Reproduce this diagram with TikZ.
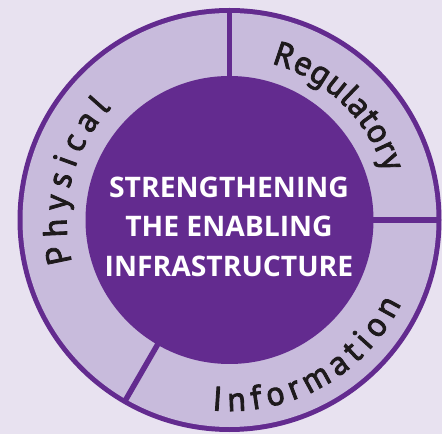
\documentclass[tikz,border=0pt]{standalone}
\usepackage{fontspec}
\setmainfont{Open Sans}
\newfontfamily\ringfont{PT Sans}[FakeBold=2.5]
\newfontfamily\centerfont{Open Sans}
\usetikzlibrary{decorations.text}
\definecolor{bgcol}{HTML}{E8E2F0}
\definecolor{ringcol}{HTML}{C8BBDC}
\definecolor{purp}{HTML}{632B8F}
\definecolor{inkcol}{HTML}{1E1A1C}
\begin{document}
\begin{tikzpicture}[x=1pt,y=1pt,
  divider/.style={purp, line width=5.5pt},
  ringtext/.style={decorate, decoration={text along path, text align=fit to path, text color=inkcol, text={|\ringfont\fontsize{34}{34}\selectfont|#1}}}]
\useasboundingbox (0,0) rectangle (442,434);
\fill[bgcol] (0,0) rectangle (442,434);
\coordinate (C) at (229.5,214);
\fill[purp] (C) circle (212);
\fill[ringcol] (C) circle (207);
\begin{scope}[shift={(C)}]
\draw[divider] (90:140) -- (90:209);
\draw[divider] (0:140) -- (0:209);
\draw[divider] (240:140) -- (240:209);
\end{scope}
\fill[purp] (C) circle (144);
\node[name=title, text=white, font=\centerfont\bfseries\fontsize{28.3}{39.5}\selectfont, align=center, inner sep=0pt] at (229,207.5) {STRENGTHENING\\THE ENABLING\\INFRASTRUCTURE};
\begin{scope}[shift={(C)}]
\path[ringtext={Physical}] (195:163) arc[start angle=195, end angle=136.6, radius=163];
\path[ringtext={Regulatory}] (75:162) arc[start angle=75, end angle=17, radius=162];
\path[ringtext={Information}] (264.7:191) arc[start angle=264.7, end angle=334, radius=191];
\end{scope}
\end{tikzpicture}
\end{document}
